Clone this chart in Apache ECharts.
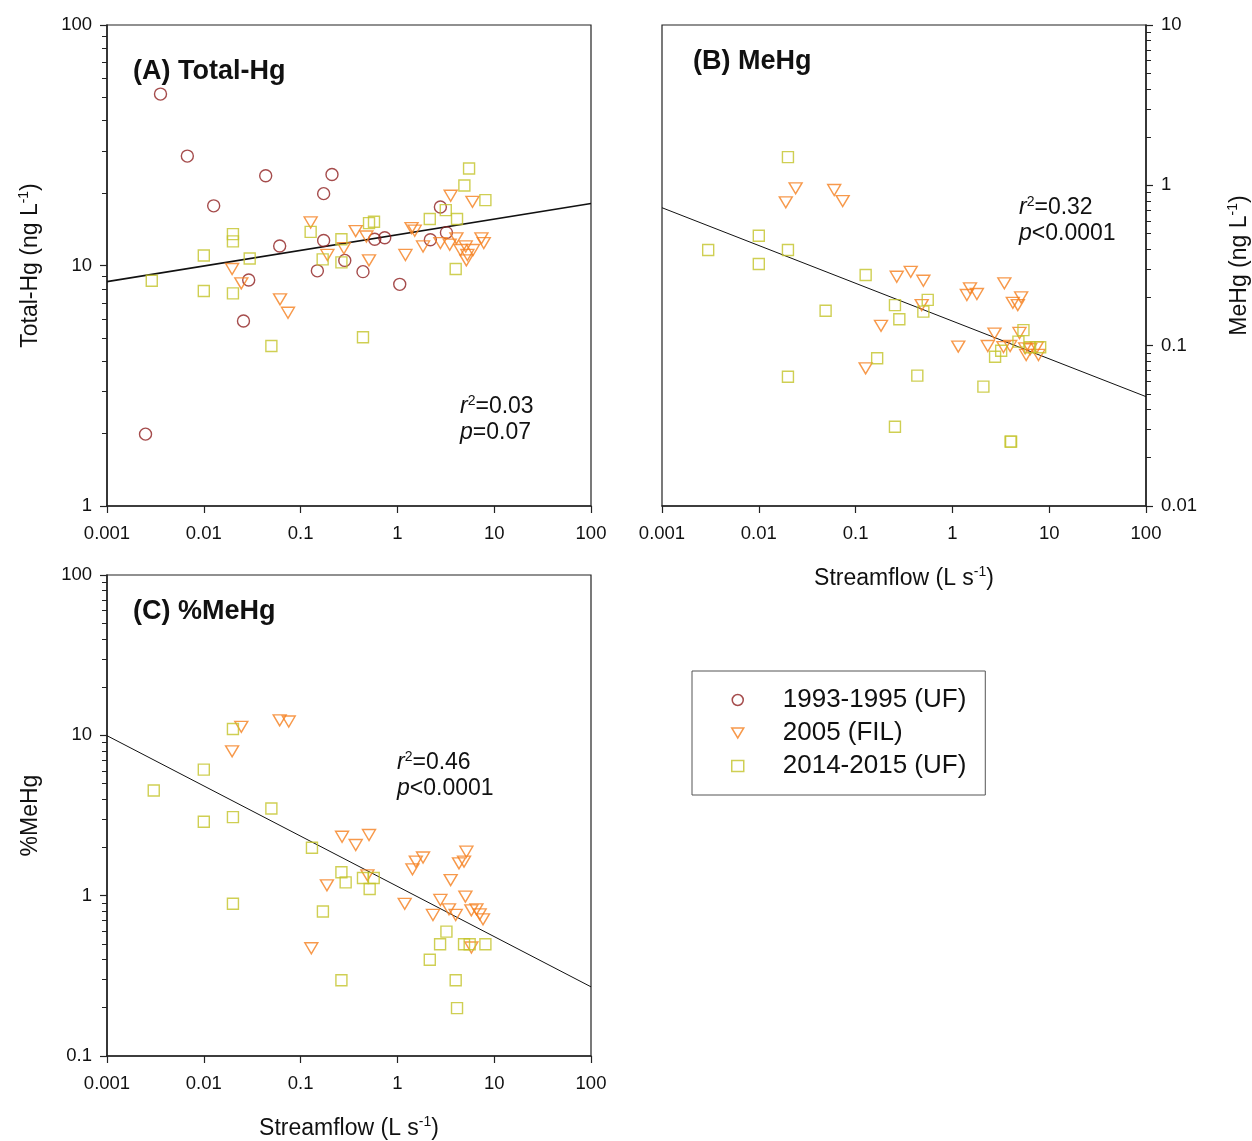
<!DOCTYPE html>
<html><head><meta charset="utf-8">
<script src="https://cdn.jsdelivr.net/npm/echarts@6/dist/echarts.min.js"></script>
<style>html,body{margin:0;padding:0;background:#fff}#c{width:1252px;height:1141px}</style>
</head><body><div id="c"></div>
<script>
// ---------- DATA ----------
const seriesNames = ['1993-1995 (UF)', '2005 (FIL)', '2014-2015 (UF)'];

// Panel A: Total-Hg (ng/L) vs streamflow (L/s)
const totalHg_UF1993 = [[0.0025,1.99],[0.00357,51.6],[0.00676,28.5],[0.01265,17.7],[0.0257,5.88],[0.0291,8.7],[0.0436,23.6],[0.0608,12.05],[0.149,9.5],[0.173,19.9],[0.173,12.7],[0.211,23.9],[0.286,10.5],[0.441,9.43],[0.583,12.85],[0.740,13.05],[1.057,8.35],[2.19,12.8],[2.78,17.5],[3.21,13.7]];
const totalHg_FIL2005 = [[0.0196,9.67],[0.0244,8.43],[0.0613,7.23],[0.0741,6.36],[0.127,15.1],[0.189,11.06],[0.28,11.8],[0.371,13.9],[0.478,13.2],[0.509,10.5],[1.21,11.06],[1.40,14.3],[1.51,13.95],[1.84,12.0],[2.78,12.4],[3.47,12.2],[3.55,19.5],[4.07,12.97],[4.48,11.6],[5.08,12.0],[5.16,10.5],[5.28,11.06],[5.96,18.4],[6.04,11.6],[7.38,12.97],[7.80,12.4]];
const totalHg_UF2014 = [[0.0029,8.64],[0.01,11.0],[0.01,7.83],[0.02,13.5],[0.02,12.6],[0.02,7.66],[0.0298,10.7],[0.0499,4.63],[0.127,13.8],[0.169,10.6],[0.264,12.85],[0.264,10.3],[0.441,5.03],[0.509,15.0],[0.573,15.2],[2.16,15.6],[3.16,17.0],[4.0,9.67],[4.13,15.6],[4.92,21.5],[5.50,25.3],[8.11,18.7]];
const totalHg_fit = [[0.001,8.57],[100,18.1]];

// Panel B: MeHg (ng/L)
const meHg_FIL2005 = [[0.019,0.784],[0.024,0.958],[0.0601,0.935],[0.0735,0.798],[0.127,0.0722],[0.183,0.133],[0.266,0.269],[0.371,0.289],[0.482,0.179],[0.501,0.254],[1.15,0.0986],[1.41,0.207],[1.52,0.228],[1.79,0.210],[2.32,0.0995],[2.72,0.119],[3.37,0.098],[3.44,0.245],[3.95,0.0995],[4.21,0.185],[4.74,0.179],[4.93,0.12],[5.13,0.200],[5.64,0.0963],[5.78,0.0875],[6.35,0.095],[7.45,0.0977],[7.74,0.0875]];
const meHg_UF2014 = [[0.003,0.395],[0.01,0.485],[0.01,0.323],[0.02,1.50],[0.02,0.395],[0.02,0.064],[0.049,0.165],[0.127,0.276],[0.167,0.0834],[0.255,0.179],[0.255,0.0312],[0.283,0.146],[0.434,0.065],[0.501,0.163],[0.556,0.193],[2.09,0.0555],[2.76,0.0853],[3.19,0.093],[3.99,0.0252],[4.04,0.0252],[4.81,0.106],[5.42,0.125],[6.35,0.0977],[8.07,0.0977]];
const meHg_fit = [[0.001,0.725],[100,0.0481]];

// Panel C: %MeHg
const pctMeHg_FIL2005 = [[0.0196,7.95],[0.0244,11.3],[0.0608,12.4],[0.0754,12.2],[0.129,0.470],[0.187,1.16],[0.268,2.33],[0.371,2.07],[0.490,1.34],[0.509,2.39],[1.19,0.89],[1.43,1.46],[1.55,1.63],[1.84,1.73],[2.33,0.758],[2.78,0.94],[3.41,0.822],[3.55,1.25],[4.0,0.758],[4.33,1.59],[4.88,1.63],[5.04,0.986],[5.16,1.88],[5.81,0.81],[5.81,0.475],[6.55,0.822],[7.08,0.765],[7.66,0.712]];
const pctMeHg_UF2014 = [[0.00304,4.53],[0.01,6.11],[0.01,2.89],[0.02,10.95],[0.02,3.09],[0.02,0.89],[0.0499,3.50],[0.131,1.99],[0.170,0.796],[0.264,1.40],[0.264,0.297],[0.292,1.21],[0.441,1.29],[0.517,1.10],[0.569,1.29],[2.16,0.398],[2.76,0.498],[3.21,0.597],[4.0,0.297],[4.13,0.199],[4.88,0.498],[5.58,0.498],[8.11,0.498]];
const pctMeHg_fit = [[0.001,9.95],[100,0.27]];

// Minor tick values
const minorTicks_1_100 = [2,3,4,5,6,7,8,9,20,30,40,50,60,70,80,90];
const minorTicks_001_10 = [0.02,0.03,0.04,0.05,0.06,0.07,0.08,0.09,0.2,0.3,0.4,0.5,0.6,0.7,0.8,0.9,2,3,4,5,6,7,8,9];
const minorTicks_01_100 = [0.2,0.3,0.4,0.5,0.6,0.7,0.8,0.9,2,3,4,5,6,7,8,9,20,30,40,50,60,70,80,90];

// ---------- STYLE ----------
const FONT = '"Liberation Sans", Arial, sans-serif';
const COL = ['#8e1f1f', '#f5801e', '#c3c328'];
const AX = '#222';
const fmt = v => String(+(+v).toPrecision(3));
const supRich = {
  n: {fontSize: 23, fontFamily: FONT, color: '#111', lineHeight: 27, fontWeight: 'normal'},
  s: {fontSize: 14, fontFamily: FONT, color: '#111', lineHeight: 14, verticalAlign: 'top', fontWeight: 'normal'}
};

const grids = [
  {left: 107, top: 25, width: 484, height: 481},
  {left: 662, top: 25, width: 484, height: 481},
  {left: 107, top: 575, width: 484, height: 482}
].map(g => Object.assign(g, {show: true, borderColor: AX, borderWidth: 1.2, backgroundColor: 'transparent'}));

function xAxis(gi, name) {
  return {
    type: 'log', logBase: 10, gridIndex: gi, min: 0.001, max: 100,
    axisLine: {lineStyle: {color: AX, width: 1.5}},
    axisTick: {length: 7, lineStyle: {color: AX, width: 1.2}},
    axisLabel: {color: '#111', fontSize: 18.5, fontFamily: FONT, margin: 18, formatter: fmt},
    splitLine: {show: false},
    name: name, nameLocation: 'middle', nameGap: 59,
    nameTextStyle: {rich: supRich}
  };
}
function yAxis(gi, min, max, pos, name, gap) {
  return {
    type: 'log', logBase: 10, gridIndex: gi, min: min, max: max, position: pos,
    axisLine: {lineStyle: {color: AX, width: 1.5}},
    axisTick: {length: 7, lineStyle: {color: AX, width: 1.2}},
    axisLabel: {color: '#111', fontSize: 18.5, fontFamily: FONT, margin: 15, formatter: fmt},
    splitLine: {show: false},
    name: name, nameLocation: 'middle', nameGap: gap, nameRotate: 90,
    nameTextStyle: {rich: supRich}
  };
}
function yMinor(gi, min, max, pos, vals) {
  return {
    type: 'log', logBase: 10, gridIndex: gi, min: min, max: max, position: pos,
    axisLine: {show: false}, axisLabel: {show: false}, splitLine: {show: false},
    axisTick: {show: true, length: 5, customValues: vals, lineStyle: {color: AX, width: 1}}
  };
}

const symStyle = [
  {symbol: 'circle', symbolSize: 12, symbolRotate: 0},
  {symbol: 'triangle', symbolSize: [13, 11], symbolRotate: 180},
  {symbol: 'rect', symbolSize: 11, symbolRotate: 0}
];
function scat(k, xi, yi, data) {
  return Object.assign({
    type: 'scatter', name: seriesNames[k], xAxisIndex: xi, yAxisIndex: yi, data: data,
    itemStyle: {color: 'transparent', borderColor: COL[k], borderWidth: 1.4},
    emphasis: {disabled: true}, z: 3
  }, symStyle[k]);
}
function fit(xi, yi, data, w) {
  return {type: 'line', xAxisIndex: xi, yAxisIndex: yi, data: data, symbol: 'none',
    lineStyle: {color: '#111', width: w}, silent: true, z: 2};
}

const statRich = {
  i: {fontSize: 23, fontFamily: FONT, fontStyle: 'italic', fontWeight: 'normal', color: '#111', lineHeight: 26},
  n: {fontSize: 23, fontFamily: FONT, fontWeight: 'normal', color: '#111', lineHeight: 26},
  s: {fontSize: 14, fontFamily: FONT, fontWeight: 'normal', color: '#111', lineHeight: 14, verticalAlign: 'top'}
};
const statStyle = {fontWeight: 'normal', rich: statRich};
const panelStyle = {fontSize: 27, fontWeight: 'bold', fontFamily: FONT, color: '#111'};

const option = {
  animation: false,
  backgroundColor: '#fff',
  grid: grids,
  xAxis: [xAxis(0, ''), xAxis(1, '{n|Streamflow (L s}{s|-1}{n|)}'), xAxis(2, '{n|Streamflow (L s}{s|-1}{n|)}')],
  yAxis: [
    yAxis(0, 1, 100, 'left', '{n|Total-Hg (ng L}{s|-1}{n|)}', 63),
    yAxis(1, 0.01, 10, 'right', '{n|MeHg (ng L}{s|-1}{n|)}', 80),
    yAxis(2, 0.1, 100, 'left', '{n|%MeHg}', 63),
    yMinor(0, 1, 100, 'left', minorTicks_1_100),
    yMinor(1, 0.01, 10, 'right', minorTicks_001_10),
    yMinor(2, 0.1, 100, 'left', minorTicks_01_100)
  ],
  legend: {
    orient: 'vertical', left: 692, top: 671, padding: [16, 19, 16, 39], itemGap: 7,
    itemWidth: 12, itemHeight: 11, borderColor: '#555', borderWidth: 1,
    textStyle: {fontSize: 26, fontFamily: FONT, color: '#111', padding: [0, 0, 0, 34]},
    data: [
      {name: seriesNames[0], icon: 'circle'},
      {name: seriesNames[1], icon: 'path://M0,0L12,0L6,10Z'},
      {name: seriesNames[2], icon: 'rect'}
    ],
    itemStyle: {color: 'transparent', borderWidth: 1.5},
    selectedMode: false
  },
  title: [
    {text: '(A) Total-Hg', left: 133, top: 58, padding: 0, textStyle: panelStyle},
    {text: '(B) MeHg', left: 693, top: 48, padding: 0, textStyle: panelStyle},
    {text: '(C) %MeHg', left: 133, top: 598, padding: 0, textStyle: panelStyle},
    {text: '{i|r}{s|2}{n|=0.03}\n{i|p}{n|=0.07}', left: 460, top: 394, padding: 0, textStyle: statStyle},
    {text: '{i|r}{s|2}{n|=0.32}\n{i|p}{n|<0.0001}', left: 1019, top: 195, padding: 0, textStyle: statStyle},
    {text: '{i|r}{s|2}{n|=0.46}\n{i|p}{n|<0.0001}', left: 397, top: 750, padding: 0, textStyle: statStyle}
  ],
  series: [
    fit(0, 0, totalHg_fit, 1.6),
    scat(0, 0, 0, totalHg_UF1993),
    scat(1, 0, 0, totalHg_FIL2005),
    scat(2, 0, 0, totalHg_UF2014),
    fit(1, 1, meHg_fit, 1),
    scat(1, 1, 1, meHg_FIL2005),
    scat(2, 1, 1, meHg_UF2014),
    fit(2, 2, pctMeHg_fit, 1),
    scat(1, 2, 2, pctMeHg_FIL2005),
    scat(2, 2, 2, pctMeHg_UF2014)
  ]
};
echarts.init(document.getElementById('c'), null, {renderer: 'canvas'}).setOption(option);
</script></body></html>
